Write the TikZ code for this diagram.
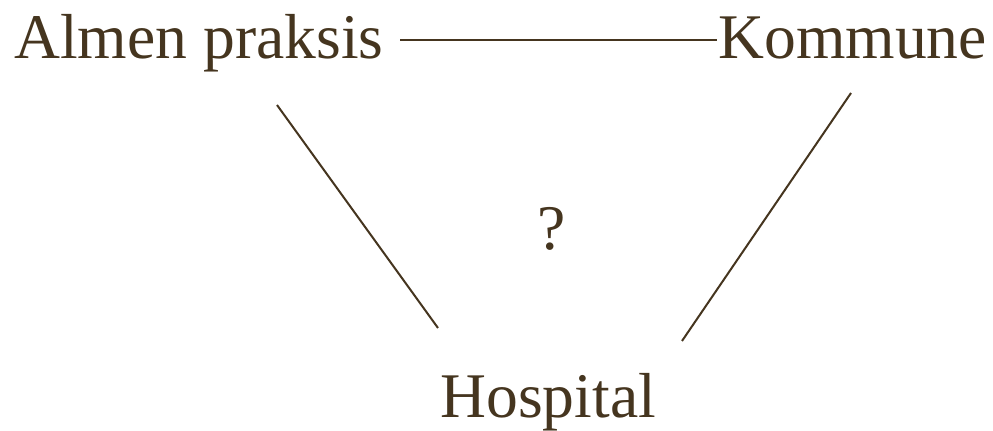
\documentclass[tikz,border=0pt]{standalone}
\usepackage{fontspec}
\setmainfont{Liberation Serif}
\usepackage{xcolor}
\definecolor{inkbrown}{HTML}{45351F}
\usetikzlibrary{positioning}

\begin{document}
\begin{tikzpicture}[x=0.5pt, y=-0.5pt,
    label text/.style={inner sep=0pt, anchor=base west, text=inkbrown, font=\fontsize{31.8}{38}\selectfont},
    link/.style={draw=inkbrown, line width=1pt}]
    \useasboundingbox (0,0) rectangle (993,431);
    % Parties
    \node [label text] (AP) at (14,59) {Almen praksis};
    \node [label text] (KO) at (718,59) {Kommune};
    \node [label text] (HO) at (440,418) {Hospital};
    \node [label text] (Q) at (537,250) {?};
    
    % Line ends
    \coordinate (APr) at (400,40);
    \coordinate (KOl) at (717,40);
    \coordinate (APb) at (277,105);
    \coordinate (HOl) at (438,328);
    \coordinate (KOb) at (851,93);
    \coordinate (HOr) at (682,341);
    
    % Connections
    \draw [link] (APr) -- (KOl);
    \draw [link] (APb) -- (HOl);
    \draw [link] (KOb) -- (HOr);
    
\end{tikzpicture}
\end{document}
